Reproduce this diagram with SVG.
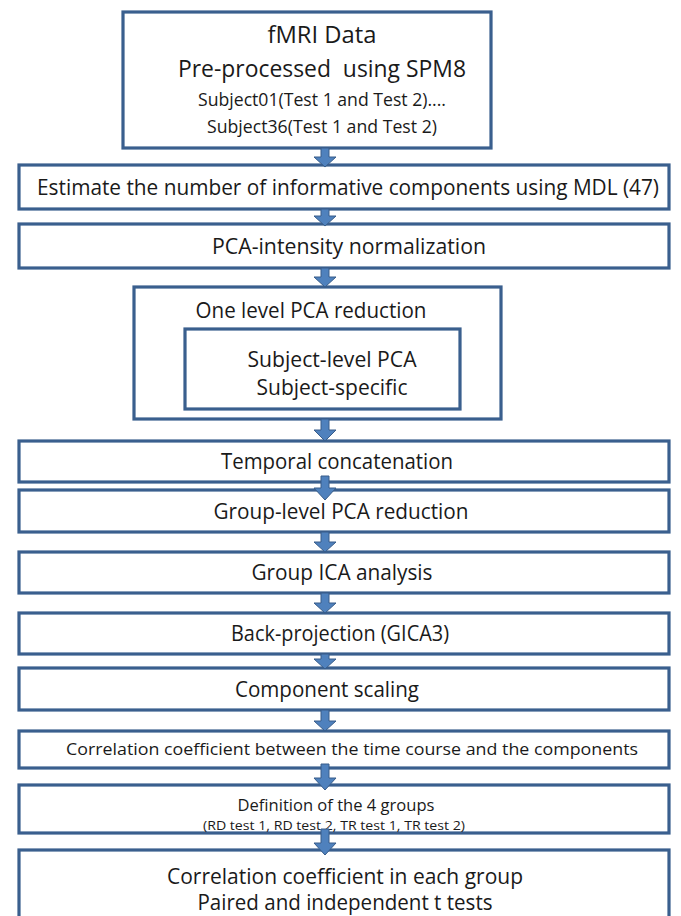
<svg xmlns="http://www.w3.org/2000/svg" width="681" height="916" viewBox="0 0 681 916">
<defs>
<style>
.box{fill:#ffffff;stroke:#3A5F8E;stroke-width:3.2}
.t{font-family:"Open Sans","Liberation Sans",sans-serif;fill:#1a1a1a;text-anchor:middle}
.arr{fill:#4F81BD;stroke:#385D8A;stroke-width:1}
</style>
</defs>
<rect width="681" height="916" fill="#ffffff"/>
<g id="n1"><rect class="box" x="123" y="12" width="368" height="136"/>
<text class="t" x="322" y="43" font-size="23.5" textLength="109" lengthAdjust="spacingAndGlyphs">fMRI Data</text>
<text class="t" x="322" y="77" font-size="23.5" textLength="288" lengthAdjust="spacingAndGlyphs" xml:space="preserve">Pre-processed  using SPM8</text>
<text class="t" x="322" y="106" font-size="17.5" textLength="248" lengthAdjust="spacingAndGlyphs">Subject01(Test 1 and Test 2)....</text>
<text class="t" x="322" y="133" font-size="17.5" textLength="230" lengthAdjust="spacingAndGlyphs">Subject36(Test 1 and Test 2)</text></g>
<g id="n2"><rect class="box" x="19" y="165" width="650" height="44"/>
<text class="t" x="348" y="195" font-size="21.5" textLength="622" lengthAdjust="spacingAndGlyphs">Estimate the number of informative components using MDL (47)</text></g>
<g id="n3"><rect class="box" x="19" y="224" width="650" height="44"/>
<text class="t" x="349" y="254" font-size="21" textLength="274" lengthAdjust="spacingAndGlyphs">PCA-intensity normalization</text></g>
<g id="n4"><rect class="box" x="134" y="287" width="367" height="132"/>
<text class="t" x="311" y="318" font-size="21.5" textLength="231" lengthAdjust="spacingAndGlyphs">One level PCA reduction</text></g>
<g id="n5"><rect class="box" x="185" y="329" width="275" height="80"/>
<text class="t" x="332" y="367" font-size="21.5" textLength="169" lengthAdjust="spacingAndGlyphs">Subject-level PCA</text>
<text class="t" x="332" y="395" font-size="21.5" textLength="151" lengthAdjust="spacingAndGlyphs">Subject-specific</text></g>
<g id="n6"><rect class="box" x="19" y="441" width="650" height="41"/>
<text class="t" x="337" y="469" font-size="21" textLength="232" lengthAdjust="spacingAndGlyphs">Temporal concatenation</text></g>
<g id="n7"><rect class="box" x="19" y="490" width="650" height="42"/>
<text class="t" x="341" y="519" font-size="21" textLength="255" lengthAdjust="spacingAndGlyphs">Group-level PCA reduction</text></g>
<g id="n8"><rect class="box" x="19" y="552" width="650" height="41"/>
<text class="t" x="342" y="580" font-size="21" textLength="181" lengthAdjust="spacingAndGlyphs">Group ICA analysis</text></g>
<g id="n9"><rect class="box" x="19" y="613" width="650" height="41"/>
<text class="t" x="340" y="641" font-size="21" textLength="218" lengthAdjust="spacingAndGlyphs">Back-projection (GICA3)</text></g>
<g id="n10"><rect class="box" x="19" y="668" width="650" height="42"/>
<text class="t" x="327" y="697" font-size="21" textLength="184" lengthAdjust="spacingAndGlyphs">Component scaling</text></g>
<g id="n11"><rect class="box" x="19" y="731" width="650" height="37"/>
<text class="t" x="352" y="755" font-size="16.5" textLength="572" lengthAdjust="spacingAndGlyphs">Correlation coefficient between the time course and the components</text></g>
<g id="n12"><rect class="box" x="19" y="785" width="650" height="48"/>
<text class="t" x="336" y="811" font-size="17" textLength="197" lengthAdjust="spacingAndGlyphs">Definition of the 4 groups</text>
<text class="t" x="334" y="830" font-size="12.5" textLength="262" lengthAdjust="spacingAndGlyphs">(RD test 1, RD test 2, TR test 1, TR test 2)</text></g>
<g id="n13"><rect class="box" x="19" y="850" width="650" height="80"/>
<text class="t" x="345" y="884" font-size="22.5" textLength="356" lengthAdjust="spacingAndGlyphs">Correlation coefficient in each group</text>
<text class="t" x="345" y="910" font-size="22.5" textLength="295" lengthAdjust="spacingAndGlyphs">Paired and independent t tests</text></g>
<g id="connectors">
<path class="arr" d="M321,148 H329 V157 H336 L325,167 L314,157 H321 Z"/>
<path class="arr" d="M321,209 H329 V216 H336 L325,226 L314,216 H321 Z"/>
<path class="arr" d="M321,268 H329 V277 H336 L325,287 L314,277 H321 Z"/>
<path class="arr" d="M321,419 H329 V430 H336 L325,441 L314,430 H321 Z"/>
<path class="arr" d="M321,476 H329 V488 H336 L325,500 L314,488 H321 Z"/>
<path class="arr" d="M321,532 H329 V542 H336 L325,552 L314,542 H321 Z"/>
<path class="arr" d="M321,593 H329 V603 H336 L325,613 L314,603 H321 Z"/>
<path class="arr" d="M321,654 H329 V659 H336 L325,669 L314,659 H321 Z"/>
<path class="arr" d="M321,710 H329 V721 H336 L325,731 L314,721 H321 Z"/>
<path class="arr" d="M321,764 H329 V778 H336 L325,790 L314,778 H321 Z"/>
<path class="arr" d="M321,829 H329 V843 H336 L325,855 L314,843 H321 Z"/>
</g>
</svg>
